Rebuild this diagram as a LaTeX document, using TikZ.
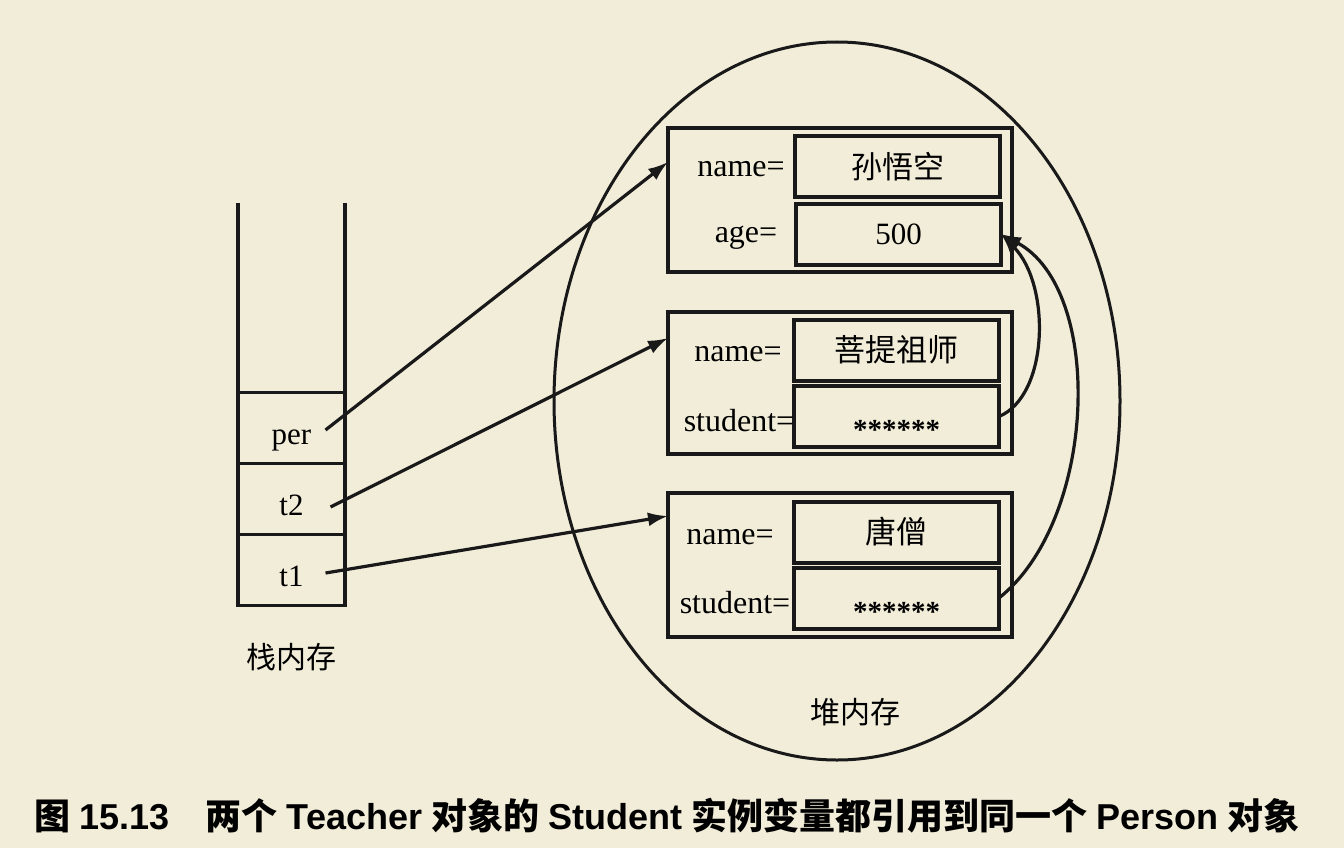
\documentclass[tikz,border=0pt]{standalone}
\usepackage{fontspec}
\setmainfont{Liberation Serif}
\newfontfamily\cjk{Noto Sans CJK SC}
\newfontfamily\capsans{Liberation Sans}
\usetikzlibrary{arrows.meta,shapes.geometric}

\definecolor{paper}{RGB}{242,237,217}
\definecolor{ink}{RGB}{25,25,25}

\newcommand\capcn[1]{{\cjk\bfseries #1}}
\newcommand\capen[1]{{\capsans\bfseries #1}}

\tikzset{
  slot/.style={draw=ink, line width=3.5pt, minimum width=107pt, minimum height=70.7pt,
    inner sep=0pt, outer sep=0pt, text height=32pt, text depth=0pt,
    font=\fontsize{31}{36}\selectfont},
  wall/.style={draw=ink, line width=3.5pt},
  objbox/.style={draw=ink, line width=4pt, minimum width=344pt, minimum height=144pt,
    inner sep=0pt, outer sep=0pt},
  field/.style={draw=ink, line width=4pt, minimum width=205pt, minimum height=61pt,
    inner sep=0pt, outer sep=0pt, font=\cjk\fontsize{31}{36}\selectfont},
  stars/.style={field, text height=46pt, text depth=0pt, font=\bfseries\fontsize{29}{34}\selectfont},
  fieldname/.style={inner sep=0pt, font=\fontsize{32}{36}\selectfont},
  memlabel/.style={inner sep=0pt, font=\cjk\fontsize{30}{36}\selectfont},
  ref/.style={draw=ink, line width=3.2pt, -{Latex[length=20pt,width=14pt]}},
}

\begin{document}
\begin{tikzpicture}[x=1pt, y=-1pt]
    \fill[paper] (0,0) rectangle (1344,848);
    \useasboundingbox (0,0) rectangle (1344,848);

    % stack
    \node[slot] (per) at (291.5,428) {per};
    \node[slot] (t2) at (291.5,499) {t2};
    \node[slot] (t1) at (291.5,570) {t1};
    \coordinate (wallL) at (238,203);
    \coordinate (wallR) at (345,203);
    \draw[wall] (wallL) -- (per.north west);
    \draw[wall] (wallR) -- (per.north east);
    \node[memlabel] (stacklabel) at (291,657) {栈内存};

    % heap
    \node[draw=ink, line width=3pt, ellipse, minimum width=566pt, minimum height=718pt,
      inner sep=0pt, outer sep=0pt] (heap) at (837,401) {};
    \node[memlabel] (heaplabel) at (855,712) {堆内存};

    % person object
    \node[objbox] (obj1) at (840,200) {};
    \node[field] (name1) at (897.5,166.5) {孙悟空};
    \node[field, font=\fontsize{31}{36}\selectfont] (age1) at (898.5,234) {500};
    \node[fieldname] (lname1) at (741,169) {name=};
    \node[fieldname] (lage1) at (746,238) {age=};

    % teacher objects
    \node[objbox, minimum height=142pt] (obj2) at (840,383) {};
    \node[field] (name2) at (896.5,350) {菩提祖师};
    \node[stars] (stu2) at (896.5,416.5) {******};
    \node[fieldname] (lname2) at (738,354) {name=};
    \node[fieldname] (lstu2) at (739,421) {student=};

    \node[objbox] (obj3) at (840,565) {};
    \node[field] (name3) at (896.5,532) {唐僧};
    \node[stars] (stu3) at (896.5,598) {******};
    \node[fieldname] (lname3) at (730,537) {name=};
    \node[fieldname] (lstu3) at (735,603) {student=};

    % references
    \draw[ref] ([xshift=34pt,yshift=-2pt]per.center) -- ([yshift=38pt]obj1.west);
    \draw[ref] ([xshift=39pt,yshift=-8pt]t2.center) -- ([yshift=45pt]obj2.west);
    \draw[ref] ([xshift=34pt,yshift=-3pt]t1.center) -- ([yshift=49pt]obj3.west);
    \draw[ref] (stu2.east) .. controls +(50,-21) and +(50,51) .. (age1.east);
    \draw[ref] (stu3.east) .. controls +(98,-78) and +(104,56) .. (age1.east);

    \node[inner sep=0pt, font=\fontsize{36}{42}\selectfont] (caption) at (667,816)
      {\capcn{图} \capen{15.13}\hspace{1em}\capcn{两个} \capen{Teacher} \capcn{对象的} \capen{Student} \capcn{实例变量都引用到同一个} \capen{Person} \capcn{对象}};
  \end{tikzpicture}
\end{document}
